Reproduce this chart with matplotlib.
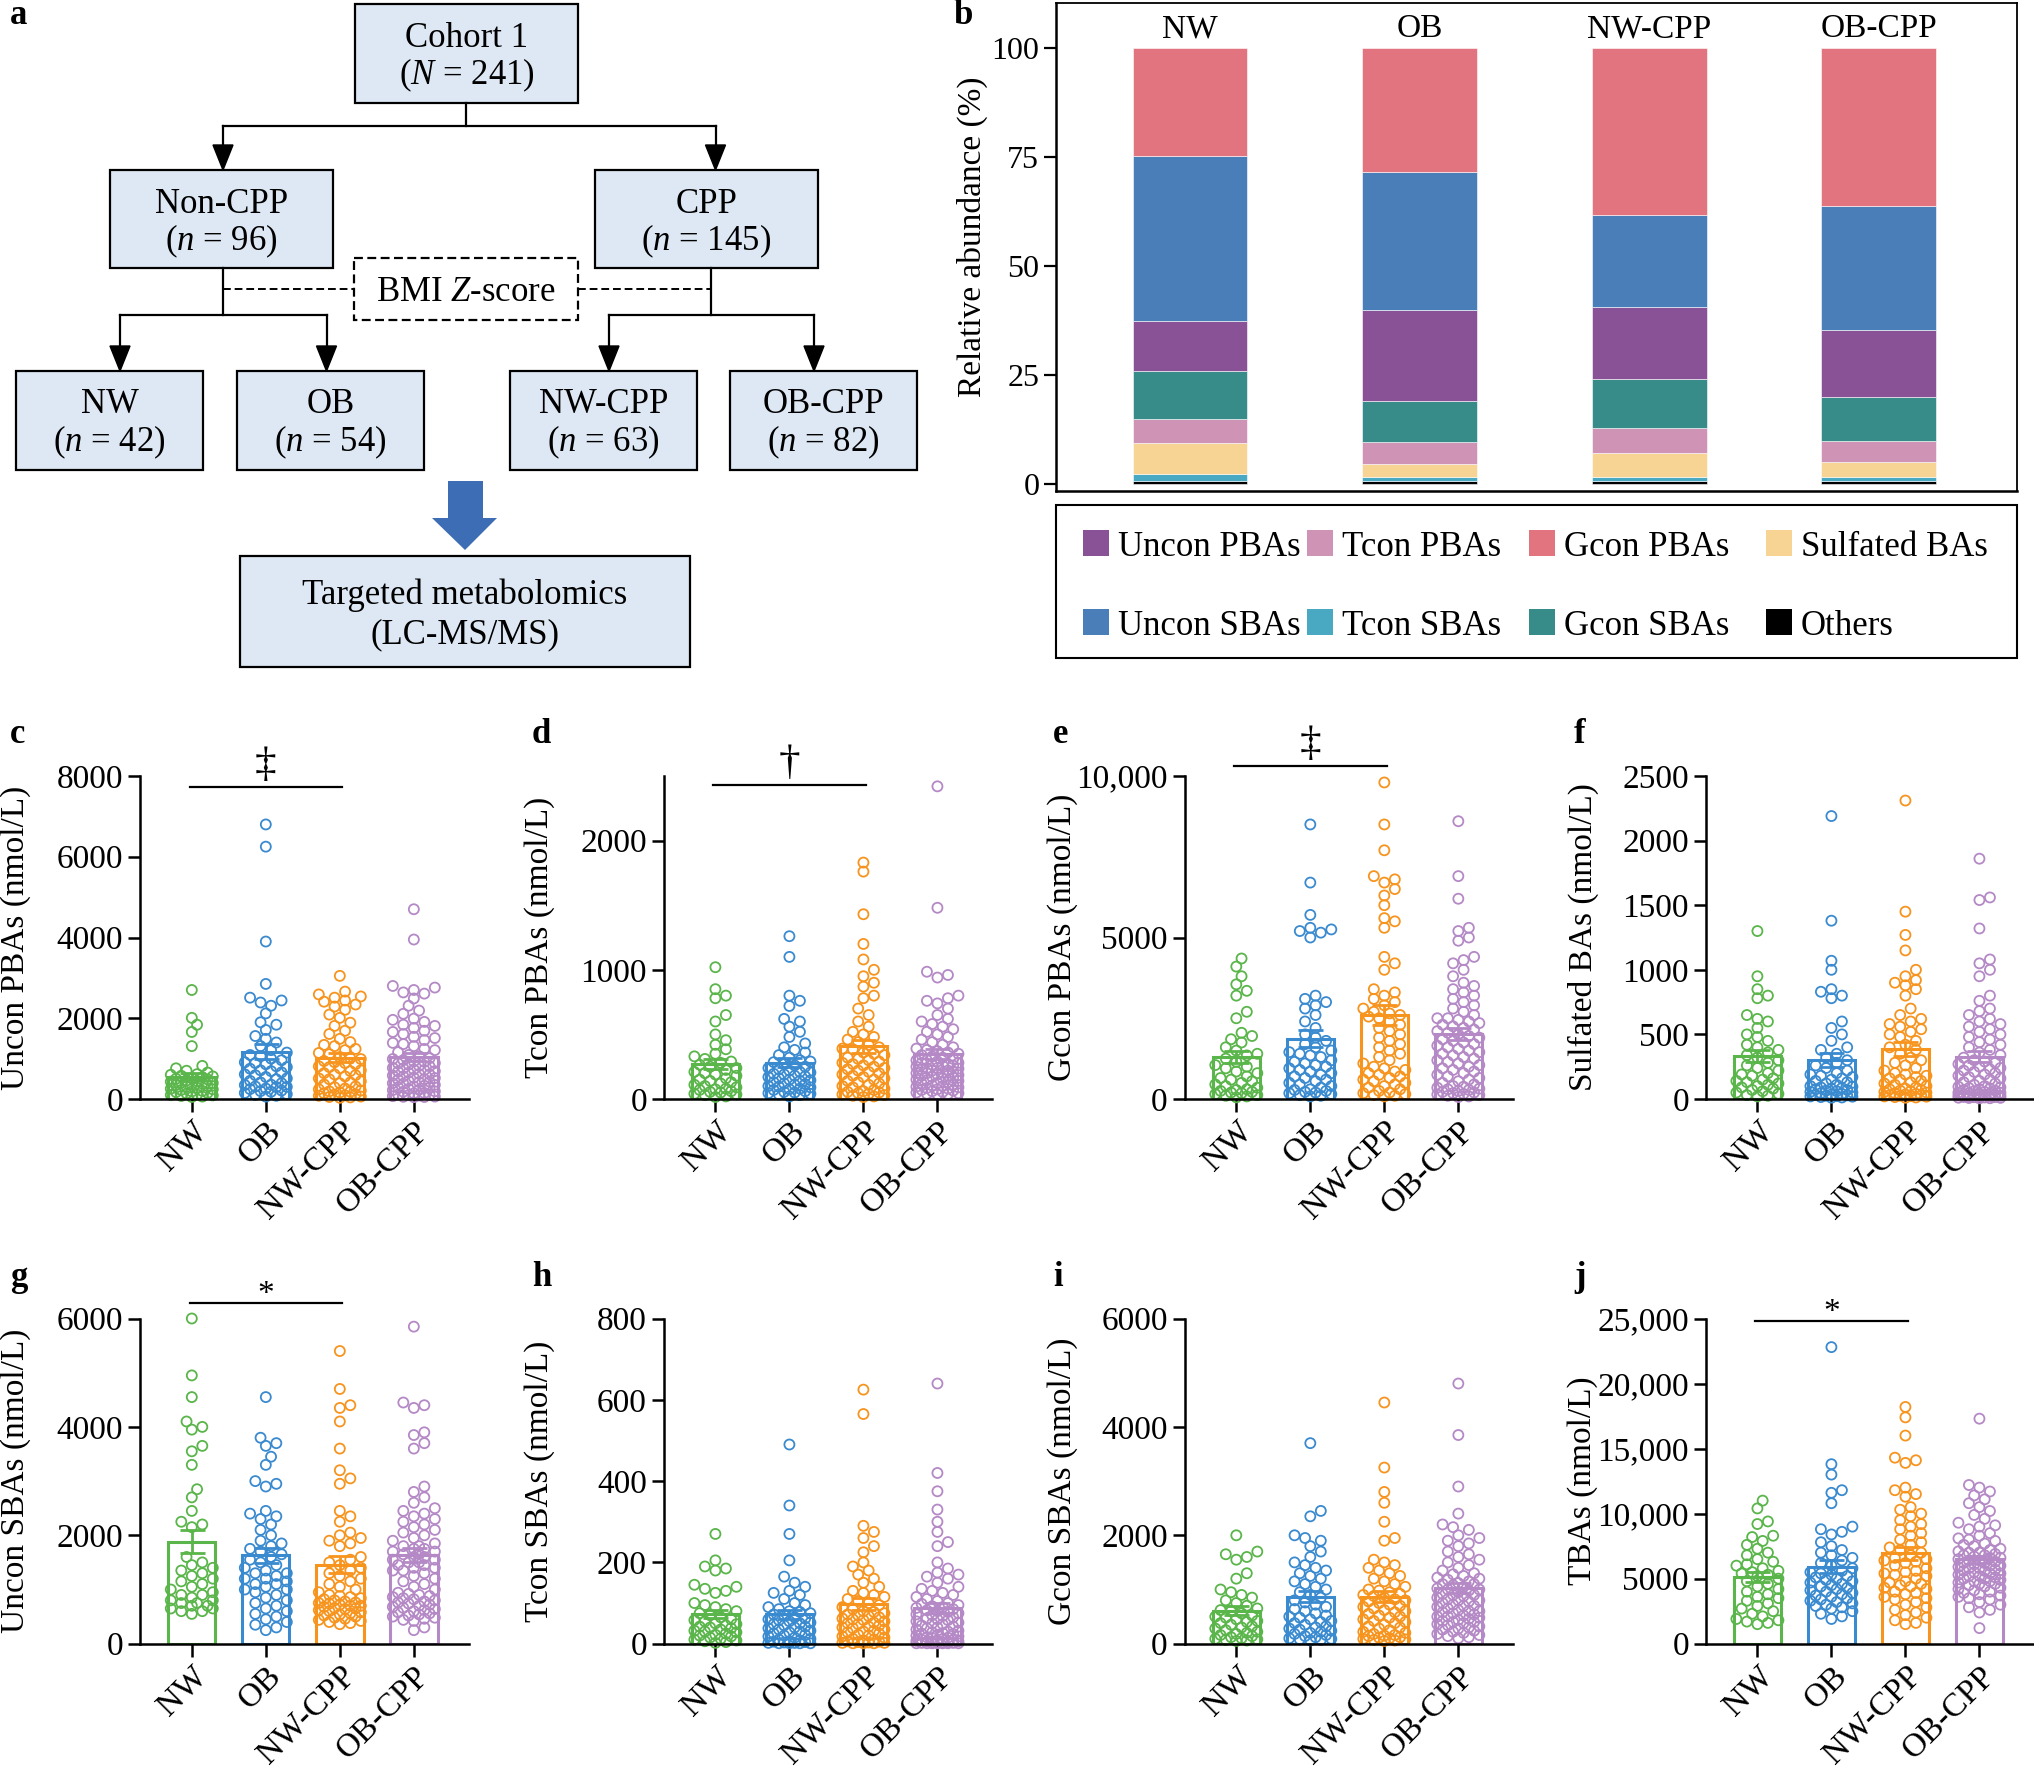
import matplotlib
matplotlib.use("Agg")
import matplotlib.pyplot as plt
import matplotlib.ticker as mticker
from matplotlib.patches import Rectangle, Polygon
import numpy as np

plt.rcParams["font.family"] = ["Liberation Serif", "DejaVu Serif"]
plt.rcParams["mathtext.fontset"] = "custom"
plt.rcParams["mathtext.rm"] = "Liberation Serif"
plt.rcParams["mathtext.it"] = "Liberation Serif:italic"

W, H, DPI = 2034, 1768, 100

groups = ["NW", "OB", "NW-CPP", "OB-CPP"]
group_colors = ["#5ab54a", "#3a8ad0", "#f7941e", "#b489c6"]

# ---- panel b: relative abundance (%), stacked bottom -> top
others = [0.7, 0.7, 0.7, 0.7]
tcon_sba = [1.7, 1.0, 1.0, 0.9]
sulfated = [7.1, 2.9, 5.3, 3.4]
tcon_pba = [5.4, 5.1, 5.9, 4.9]
gcon_sba = [11.0, 9.3, 11.2, 10.1]
uncon_pba = [11.5, 20.9, 16.6, 15.3]
uncon_sba = [37.9, 31.7, 20.9, 28.5]
gcon_pba = [24.7, 28.4, 38.4, 36.2]

# ---- panels c-j: individual concentrations (nmol/L), one list per group
c_nw = [2700, 2010, 1840, 1660, 1310, 820, 760, 700, 655, 615, 600, 575, 560, 540, 515, 500, 485, 455,
        445, 430, 405, 395, 380, 360, 345, 320, 305, 280, 255, 240, 225, 200, 185, 170, 150, 135, 110,
        100, 90, 75, 60, 50]
c_ob = [6800, 6250, 3900, 2850, 2510, 2440, 2390, 2310, 2120, 1900, 1840, 1710, 1560, 1490, 1400, 1310,
        1210, 1150, 1090, 1060, 1000, 960, 910, 890, 860, 810, 790, 750, 710, 690, 660, 610, 590, 545,
        510, 490, 450, 410, 390, 355, 345, 310, 300, 295, 260, 245, 210, 195, 180, 150, 120, 100, 80, 60]
c_nwcpp = [3050, 2660, 2590, 2540, 2510, 2440, 2410, 2340, 2290, 2210, 2090, 2010, 1890, 1810, 1690,
           1610, 1490, 1410, 1340, 1310, 1240, 1210, 1140, 1110, 1040, 1010, 990, 940, 910, 890, 860,
           810, 790, 760, 710, 690, 640, 610, 590, 560, 510, 490, 440, 410, 390, 360, 310, 290, 260,
           240, 210, 190, 180, 160, 140, 120, 110, 90, 80, 60, 50, 40, 30]
c_obcpp = [4700, 3950, 2800, 2760, 2700, 2640, 2610, 2490, 2310, 2190, 2110, 1990, 1960, 1910, 1840,
           1810, 1760, 1690, 1660, 1610, 1540, 1510, 1460, 1390, 1360, 1310, 1240, 1210, 1160, 1090,
           1060, 1010, 990, 960, 930, 920, 890, 880, 850, 820, 810, 770, 760, 730, 720, 690, 680, 650,
           620, 610, 580, 560, 530, 520, 490, 480, 450, 430, 420, 390, 380, 350, 330, 310, 290, 280,
           250, 230, 220, 190, 180, 150, 140, 110, 100, 95, 85, 70, 60, 55, 50, 45]

d_nw = [1020, 850, 800, 780, 650, 600, 500, 455, 420, 385, 350, 330, 310, 290, 280, 265, 250, 240, 225,
        210, 200, 190, 180, 160, 150, 140, 130, 120, 110, 100, 90, 80, 75, 70, 60, 55, 50, 40, 35, 30,
        20, 15]
d_ob = [1260, 1100, 800, 760, 720, 620, 600, 560, 520, 480, 430, 400, 380, 360, 340, 320, 300, 290, 285,
        270, 260, 250, 240, 230, 220, 210, 205, 195, 190, 180, 175, 170, 160, 150, 145, 140, 130, 120,
        115, 110, 100, 95, 90, 80, 75, 70, 60, 55, 50, 45, 40, 35, 30, 20]
d_nwcpp = [1830, 1760, 1430, 1200, 1080, 1000, 950, 900, 870, 800, 780, 700, 650, 600, 560, 520, 500,
           480, 460, 440, 420, 400, 390, 385, 360, 350, 340, 320, 310, 300, 290, 280, 270, 260, 250,
           240, 230, 220, 210, 200, 190, 180, 170, 160, 150, 140, 130, 120, 110, 100, 90, 80, 70, 60,
           55, 50, 45, 40, 35, 30, 25, 20, 15]
d_obcpp = [2420, 1480, 985, 960, 940, 800, 780, 760, 740, 700, 650, 620, 600, 580, 560, 540, 520, 500,
           480, 460, 440, 420, 400, 390, 380, 370, 360, 350, 340, 330, 320, 310, 300, 290, 280, 270,
           265, 260, 250, 240, 235, 230, 220, 210, 205, 200, 190, 185, 180, 170, 165, 160, 150, 145,
           140, 130, 125, 120, 110, 105, 100, 95, 90, 85, 80, 75, 70, 65, 60, 55, 50, 45, 40, 38, 35,
           300, 280, 260, 240, 220, 200, 180]

e_nw = [4350, 4100, 3800, 3550, 3350, 3200, 2700, 2500, 2050, 1950, 1850, 1750, 1600, 1500, 1400, 1350,
        1250, 1150, 1050, 1000, 950, 850, 800, 700, 650, 600, 550, 500, 450, 400, 350, 300, 280, 250,
        220, 200, 180, 150, 120, 100, 80, 50]
e_ob = [8500, 6700, 5700, 5300, 5250, 5200, 5150, 5000, 3200, 3100, 3000, 2900, 2800, 2600, 2400, 2200,
        2000, 1900, 1800, 1700, 1600, 1500, 1450, 1400, 1350, 1300, 1200, 1150, 1100, 1050, 1000, 950,
        900, 850, 800, 750, 700, 650, 600, 550, 500, 450, 400, 350, 300, 280, 250, 220, 200, 180, 150,
        120, 100, 80]
e_nwcpp = [9800, 8500, 7700, 6900, 6800, 6700, 6500, 6300, 6000, 5600, 5500, 5300, 4400, 4200, 4000,
           3400, 3300, 3200, 3100, 3000, 2900, 2800, 2700, 2650, 2600, 2550, 2500, 2400, 2300, 2200,
           2100, 2000, 1900, 1800, 1700, 1600, 1500, 1400, 1300, 1200, 1100, 1000, 950, 900, 850, 800,
           750, 700, 650, 600, 550, 500, 450, 400, 350, 300, 250, 200, 180, 150, 120, 100, 80]
e_obcpp = [8600, 6900, 6200, 5300, 5200, 5000, 4900, 4400, 4300, 4200, 4000, 3800, 3600, 3500, 3400,
           3300, 3200, 3100, 3000, 2900, 2800, 2700, 2600, 2500, 2500, 2450, 2400, 2350, 2300, 2250,
           2200, 2150, 2100, 2050, 2000, 1950, 1900, 1850, 1800, 1750, 1700, 1650, 1600, 1550, 1500,
           1450, 1400, 1350, 1300, 1250, 1200, 1150, 1100, 1050, 1000, 950, 900, 850, 800, 750, 700,
           650, 600, 550, 500, 450, 400, 380, 350, 320, 300, 280, 250, 220, 200, 180, 160, 140, 120,
           100, 80, 60]

f_nw = [1300, 950, 850, 800, 780, 650, 620, 600, 550, 500, 480, 450, 420, 400, 380, 360, 340, 320, 300,
        280, 260, 240, 220, 200, 190, 180, 160, 150, 140, 130, 120, 110, 100, 90, 80, 70, 60, 50, 40,
        30, 25, 20]
f_ob = [2190, 1380, 1070, 1000, 850, 830, 800, 780, 600, 550, 500, 450, 400, 380, 350, 320, 300, 280,
        260, 240, 220, 200, 190, 180, 170, 160, 150, 140, 130, 120, 110, 100, 95, 90, 85, 80, 75, 70,
        65, 60, 55, 50, 45, 40, 35, 30, 28, 25, 22, 20, 18, 15, 12, 10]
f_nwcpp = [2310, 1450, 1270, 1150, 1000, 950, 920, 900, 880, 850, 800, 700, 650, 620, 600, 580, 560,
           540, 520, 500, 480, 450, 420, 400, 380, 350, 320, 300, 280, 260, 240, 220, 200, 190, 180,
           170, 160, 150, 140, 130, 120, 110, 100, 90, 80, 75, 70, 65, 60, 55, 50, 45, 40, 35, 30, 28,
           25, 22, 20, 18, 15, 12, 10]
f_obcpp = [1860, 1560, 1540, 1320, 1080, 1050, 1000, 950, 800, 760, 700, 680, 650, 620, 600, 580, 560,
           540, 520, 500, 480, 460, 440, 420, 400, 380, 360, 340, 320, 300, 290, 280, 270, 260, 250,
           240, 230, 220, 210, 200, 190, 180, 170, 160, 150, 140, 130, 120, 110, 100, 95, 90, 85, 80,
           75, 70, 65, 60, 55, 50, 48, 45, 42, 40, 38, 35, 32, 30, 28, 25, 22, 20, 18, 16, 15, 14, 12,
           10, 9, 8, 6, 5]

g_nw = [6000, 4950, 4550, 4100, 4000, 3950, 3650, 3550, 3300, 2850, 2700, 2450, 2250, 2200, 2150, 1600,
        1500, 1450, 1400, 1350, 1300, 1250, 1200, 1150, 1100, 1050, 1000, 950, 900, 900, 850, 800, 800,
        750, 750, 700, 700, 650, 650, 600, 600, 550]
g_ob = [4550, 3800, 3700, 3650, 3450, 3300, 3000, 2950, 2900, 2450, 2400, 2350, 2300, 2200, 2100, 2000,
        1900, 1850, 1800, 1750, 1700, 1650, 1600, 1550, 1500, 1450, 1400, 1350, 1300, 1250, 1200, 1150,
        1100, 1050, 1000, 950, 900, 850, 800, 750, 700, 650, 600, 550, 500, 450, 400, 350, 300, 250,
        1300, 1200, 1100, 1000]
g_nwcpp = [5400, 4700, 4400, 4350, 4100, 3600, 3200, 3050, 2950, 2450, 2350, 2250, 2050, 2000, 1950,
           1900, 1850, 1800, 750, 700, 650, 1600, 1550, 1500, 1450, 1400, 1350, 1300, 1250, 1200, 1150,
           1100, 1050, 1000, 950, 900, 880, 860, 840, 820, 800, 780, 760, 740, 720, 700, 680, 660, 640,
           620, 600, 580, 560, 540, 520, 500, 480, 460, 440, 420, 400, 380, 360]
g_obcpp = [5850, 4450, 4400, 4350, 3900, 3850, 3700, 3600, 2900, 2800, 2700, 2600, 2500, 2450, 2400,
           2350, 2300, 2250, 2200, 2150, 2100, 2050, 2000, 1950, 1900, 1850, 1800, 1750, 1700, 1650,
           1600, 1550, 1500, 1450, 1400, 1350, 1300, 1250, 1200, 1150, 1100, 1050, 1000, 1800, 1750,
           1700, 1650, 1600, 1550, 1500, 1450, 1400, 1350, 300, 250, 940, 920, 900, 880, 860, 840, 820,
           800, 780, 760, 740, 720, 700, 680, 660, 640, 620, 600, 580, 560, 540, 520, 500, 480, 460,
           440, 420]

h_nw = [270, 205, 190, 185, 180, 145, 140, 135, 130, 125, 100, 95, 90, 85, 80, 75, 70, 65, 60, 58, 55,
        50, 48, 45, 42, 40, 38, 35, 32, 30, 28, 25, 22, 20, 18, 15, 12, 10, 8, 6, 4, 2]
h_ob = [490, 340, 270, 205, 165, 150, 140, 130, 125, 120, 110, 100, 95, 90, 85, 80, 78, 75, 72, 70, 65,
        62, 60, 58, 55, 52, 50, 48, 45, 42, 40, 38, 35, 32, 30, 28, 25, 22, 20, 18, 15, 12, 10, 8, 6, 5,
        4, 3, 2, 2, 1, 1, 1, 1]
h_nwcpp = [625, 565, 290, 275, 260, 240, 225, 200, 190, 180, 170, 160, 150, 140, 130, 125, 120, 115,
           110, 105, 100, 95, 90, 85, 80, 78, 75, 72, 70, 68, 65, 62, 60, 58, 55, 52, 50, 48, 45, 42, 40,
           38, 35, 32, 30, 28, 25, 22, 20, 18, 15, 12, 10, 8, 6, 5, 4, 3, 2, 2, 1, 1, 1]
h_obcpp = [640, 420, 375, 330, 300, 275, 250, 240, 200, 185, 175, 170, 165, 160, 150, 140, 135, 130, 125,
           120, 115, 110, 105, 100, 98, 95, 92, 90, 88, 85, 82, 80, 78, 75, 72, 70, 68, 65, 62, 60, 58,
           55, 52, 50, 48, 45, 42, 40, 38, 35, 32, 30, 28, 26, 25, 24, 22, 20, 18, 16, 15, 14, 12, 10, 9,
           8, 7, 6, 5, 4, 3, 3, 2, 2, 2, 1, 1, 1, 1, 1, 1, 1]

i_nw = [2000, 1700, 1650, 1600, 1550, 1300, 1200, 1000, 950, 900, 850, 800, 750, 700, 650, 620, 600,
        560, 520, 500, 480, 450, 420, 400, 380, 350, 320, 300, 280, 250, 220, 200, 180, 160, 140, 120,
        100, 90, 80, 70, 60, 50]
i_ob = [3700, 2450, 2350, 2000, 1950, 1900, 1800, 1700, 1600, 1500, 1450, 1400, 1350, 1300, 1250, 1200,
        1150, 1100, 1050, 1000, 950, 900, 850, 800, 760, 720, 680, 640, 600, 560, 520, 500, 480, 450,
        420, 400, 380, 350, 320, 300, 280, 260, 240, 220, 200, 180, 160, 140, 120, 100, 90, 80, 70, 60]
i_nwcpp = [4450, 3250, 2800, 2600, 2250, 1950, 1900, 1550, 1500, 1450, 1400, 1350, 1300, 1250, 1200,
           1150, 1100, 1050, 1000, 980, 950, 920, 900, 880, 850, 820, 800, 780, 750, 720, 700, 680, 650,
           620, 600, 580, 550, 520, 500, 480, 450, 420, 400, 380, 350, 320, 300, 280, 250, 220, 200,
           180, 160, 150, 140, 120, 110, 100, 90, 80, 70, 60, 50]
i_obcpp = [4800, 3850, 2900, 2400, 2200, 2150, 2100, 2000, 1950, 1900, 1850, 1800, 1700, 1650, 1600,
           1550, 1500, 1450, 1400, 1350, 1300, 1280, 1250, 1220, 1200, 1180, 1150, 1120, 1100, 1080,
           1050, 1020, 1000, 980, 950, 920, 900, 880, 850, 820, 800, 780, 750, 720, 700, 680, 650, 620,
           600, 580, 560, 540, 520, 500, 480, 460, 440, 420, 400, 380, 360, 340, 320, 300, 280, 260,
           240, 220, 200, 180, 160, 140, 120, 100, 1100, 1000, 900, 800, 700, 600, 500, 400]

j_nw = [11000, 10400, 9400, 9200, 8300, 8200, 7900, 7600, 7300, 7000, 6800, 6500, 6300, 6100, 6000,
        5800, 5600, 5500, 5400, 5300, 5200, 5000, 4800, 4600, 4400, 4200, 4000, 3800, 3600, 3500, 3300,
        3100, 2900, 2700, 2500, 2300, 2100, 1900, 1800, 1700, 1600, 1500]
j_ob = [22800, 13800, 13000, 11800, 11600, 10800, 9000, 8800, 8600, 8400, 7800, 7500, 7200, 7000, 6800,
        6600, 6400, 6200, 6000, 5800, 5600, 5500, 5400, 5300, 5200, 5100, 5000, 4900, 4800, 4700, 4600,
        4500, 4400, 4300, 4200, 4100, 4000, 3900, 3800, 3700, 3600, 3500, 3400, 3300, 3200, 3100, 3000,
        2900, 2800, 2700, 2500, 2300, 2100, 1900]
j_nwcpp = [18200, 17400, 16000, 14300, 14100, 13900, 12000, 11800, 11500, 11300, 10500, 10300, 10000,
           9800, 9500, 9200, 9000, 8800, 8500, 8300, 8000, 7800, 7600, 7400, 7200, 7000, 6800, 6600,
           6400, 6200, 6000, 5800, 5600, 5400, 5200, 5000, 4800, 4600, 4400, 4200, 4000, 3800, 3600,
           3400, 3200, 3000, 2800, 2600, 2400, 2200, 2000, 1800, 1600, 1500, 5500, 6500, 4700, 4500,
           3500, 6300, 5300, 4300, 3900]
j_obcpp = [17300, 12200, 12000, 11700, 11400, 11100, 10800, 10500, 10200, 9900, 9600, 9300, 9100, 8800,
           8500, 8300, 8100, 7900, 7700, 7500, 7300, 7100, 7000, 6900, 6800, 6700, 6600, 6500, 6400,
           6300, 6200, 6100, 6000, 5900, 5800, 5700, 5600, 5500, 5400, 5300, 5200, 5100, 5000, 4900,
           4800, 4700, 4600, 4500, 4400, 4300, 4200, 4100, 4000, 3900, 3800, 3700, 3600, 3500, 3400,
           3200, 3000, 2800, 2600, 2400, 1200, 6000, 6200, 5800, 5600, 6400, 7000, 7200, 5400, 5200,
           4800, 6600, 6800, 5000, 4600, 7600, 8000, 9000]


def px_rect(x0, y0, x1, y1):
    """pixel box (top-left origin) -> figure fraction rect"""
    return [x0 / W, 1 - y1 / H, (x1 - x0) / W, (y1 - y0) / H]


def swarm(vals, ytop, h_px, d=10.5, max_off=24.0, min_gap=0.8):
    """horizontal offsets (px) so overlapping dots spread out, densest first at centre"""
    y = np.asarray(vals, float) / ytop * h_px
    cands = [0.0]
    k = 1
    while k * d * 0.5 <= max_off:
        cands += [k * d * 0.5, -k * d * 0.5]
        k += 1
    px, py = [], []
    off = np.zeros(len(y))
    for i in np.argsort(y):
        best, best_gap = 0.0, -1.0
        for c in cands:
            gap = np.inf if not px else np.hypot(np.array(px) - c, np.array(py) - y[i]).min()
            if gap >= min_gap * d:
                best = c
                break
            if gap > best_gap:
                best_gap, best = gap, c
        off[i] = best
        px.append(best)
        py.append(y[i])
    return off


fig = plt.figure(figsize=(W / DPI, H / DPI), dpi=DPI)

# canvas in pixel coordinates for the flow chart, legend box and panel letters
cv = fig.add_axes([0, 0, 1, 1])
cv.set_xlim(0, W)
cv.set_ylim(H, 0)
cv.axis("off")

BOX_FILL = "#dde8f4"
FS = 25


def box(x0, y0, x1, y1, lines, dashed=False, fill=BOX_FILL):
    cv.add_patch(Rectangle((x0, y0), x1 - x0, y1 - y0, facecolor=fill, edgecolor="black",
                           lw=1.6, ls=(0, (4, 2)) if dashed else "-"))
    for txt, yb in lines:
        cv.text((x0 + x1) / 2, yb, txt, ha="center", va="baseline", fontsize=FS)


def arrow_down(x, y0, y1):
    cv.plot([x, x], [y0, y1 - 22], color="black", lw=1.6)
    cv.add_patch(Polygon([[x - 10, y1 - 25], [x + 10, y1 - 25], [x, y1]], closed=True,
                         facecolor="black", edgecolor="black"))


# ---- panel a: flow chart
box(355, 4, 578, 103, [("Cohort 1", 47), ("($\\mathit{N}$ = 241)", 84)])
cv.plot([466, 466], [103, 125.5], color="black", lw=1.6)
cv.plot([223, 715.5], [125.5, 125.5], color="black", lw=1.6)
arrow_down(223, 125.5, 170)
arrow_down(715.5, 125.5, 170)
box(110, 170, 333, 268, [("Non-CPP", 213), ("($\\mathit{n}$ = 96)", 250)])
box(595, 170, 818, 268, [("CPP", 213), ("($\\mathit{n}$ = 145)", 250)])
cv.plot([223, 223], [268, 315], color="black", lw=1.6)
cv.plot([120, 326.5], [315, 315], color="black", lw=1.6)
cv.plot([711, 711], [268, 315], color="black", lw=1.6)
cv.plot([609, 814], [315, 315], color="black", lw=1.6)
cv.plot([223, 354], [288.6, 288.6], color="black", lw=1.4, ls=(0, (4, 2)))
cv.plot([578, 711], [288.6, 288.6], color="black", lw=1.4, ls=(0, (4, 2)))
box(354, 258, 578, 320, [("BMI $\\mathit{Z}$-score", 301)], dashed=True, fill="white")
for xa in (120, 326.5, 609, 814):
    arrow_down(xa, 315, 371)
for (x0, x1), name, n in zip([(16, 203), (237, 424), (510, 697), (730, 917)], groups,
                             [42, 54, 63, 82]):
    box(x0, 371, x1, 470, [(name, 413), (f"($\\mathit{{n}}$ = {n})", 451)])
cv.add_patch(Polygon([[448, 481], [483, 481], [483, 518], [497, 518], [465, 550], [432, 518],
                      [448, 518]], closed=True, facecolor="#3d6db4", edgecolor="none"))
box(240, 556, 690, 667, [("Targeted metabolomics", 604), ("(LC-MS/MS)", 643)])

# ---- panel b: stacked composition
stack = [
    ("Others", others, "#000000"),
    ("Tcon SBAs", tcon_sba, "#4aa9c2"),
    ("Sulfated BAs", sulfated, "#f7d394"),
    ("Tcon PBAs", tcon_pba, "#cf93b5"),
    ("Gcon SBAs", gcon_sba, "#378c89"),
    ("Uncon PBAs", uncon_pba, "#8a5296"),
    ("Uncon SBAs", uncon_sba, "#4a7eb8"),
    ("Gcon PBAs", gcon_pba, "#e27480"),
]
axb = fig.add_axes(px_rect(1056, 3, 2017, 491))
xb = np.arange(len(groups))
bottom = np.zeros(len(groups))
for name, vals, col in stack:
    axb.bar(xb, vals, 0.5, bottom=bottom, color=col, edgecolor="white", linewidth=0.4)
    bottom += np.asarray(vals)
for i, g in enumerate(groups):
    axb.text(i, 102.5, g, ha="center", va="baseline", fontsize=24)
axb.set_xlim(-0.584, 3.602)
axb.set_ylim(-1.6, 110.3)
axb.set_yticks([0, 25, 50, 75, 100])
axb.set_xticks([])
axb.tick_params(axis="y", direction="out", length=9, width=1.6, labelsize=23, pad=3)
for side, sp in axb.spines.items():
    sp.set_linewidth(1.8 if side in ("left", "bottom") else 1.3)
fig.text(972 / W, 1 - 237 / H, "Relative abundance (%)", rotation=90, ha="center", va="center",
         fontsize=24)

# legend box for b
cv.add_patch(Rectangle((1056, 505), 961, 153, facecolor="none", edgecolor="black", lw=1.5))
legend_rows = [["Uncon PBAs", "Tcon PBAs", "Gcon PBAs", "Sulfated BAs"],
               ["Uncon SBAs", "Tcon SBAs", "Gcon SBAs", "Others"]]
leg_color = {name: col for name, _, col in stack}
for row, yb in zip(legend_rows, [556, 635]):
    for name, xm in zip(row, [1083, 1307, 1529, 1766]):
        cv.add_patch(Rectangle((xm, yb - 26), 26, 26, facecolor=leg_color[name], edgecolor="none"))
        cv.text(xm + 35, yb, name, ha="left", va="baseline", fontsize=25)

# ---- panels c-j: scatter + mean bar + SEM
panels = [
    ("c", [c_nw, c_ob, c_nwcpp, c_obcpp], "Uncon PBAs (nmol/L)", 8000, [0, 2000, 4000, 6000, 8000],
     ("\u2021", 7720)),
    ("d", [d_nw, d_ob, d_nwcpp, d_obcpp], "Tcon PBAs (nmol/L)", 2500, [0, 1000, 2000],
     ("\u2020", 2430)),
    ("e", [e_nw, e_ob, e_nwcpp, e_obcpp], "Gcon PBAs (nmol/L)", 10000, [0, 5000, 10000],
     ("\u2021", 10320)),
    ("f", [f_nw, f_ob, f_nwcpp, f_obcpp], "Sulfated BAs (nmol/L)", 2500,
     [0, 500, 1000, 1500, 2000, 2500], None),
    ("g", [g_nw, g_ob, g_nwcpp, g_obcpp], "Uncon SBAs (nmol/L)", 6000, [0, 2000, 4000, 6000],
     ("*", 6295)),
    ("h", [h_nw, h_ob, h_nwcpp, h_obcpp], "Tcon SBAs (nmol/L)", 800, [0, 200, 400, 600, 800], None),
    ("i", [i_nw, i_ob, i_nwcpp, i_obcpp], "Gcon SBAs (nmol/L)", 6000, [0, 2000, 4000, 6000], None),
    ("j", [j_nw, j_ob, j_nwcpp, j_obcpp], "TBAs (nmol/L)", 25000,
     [0, 5000, 10000, 15000, 20000, 25000], ("*", 24843)),
]
col_left = [140, 663.6, 1184.5, 1705.6]
label_x = [15.5, 540, 1063, 1583]
letter_x = [10, 532, 1053, 1574]
rows = [(776, 1099, 743), (1318.5, 1643.7, 1286)]
AX_W = 328.6
CAT_PX = 74.0


def fmt_tick(v, _pos):
    return f"{int(v):,}" if v >= 10000 else f"{int(v)}"


for k, (letter, data, ylabel, ytop, yticks, sig) in enumerate(panels):
    r, c = divmod(k, 4)
    top, bot, letter_y = rows[r]
    ax = fig.add_axes(px_rect(col_left[c], top, col_left[c] + AX_W, bot))
    h_px = bot - top
    for i, (vals, col) in enumerate(zip(data, group_colors)):
        arr = np.asarray(vals, float)
        mean = arr.mean()
        sem = arr.std(ddof=1) / np.sqrt(len(arr))
        ax.bar(i, mean, 0.64, facecolor="none", edgecolor=col, linewidth=2.2, zorder=2)
        xs = i + swarm(arr, ytop, h_px) / CAT_PX
        ax.scatter(xs, arr, s=52, facecolors="none", edgecolors=col, linewidths=1.3, zorder=3,
                   clip_on=False)
        ax.errorbar(i, mean, yerr=sem, fmt="none", ecolor=col, elinewidth=2.0, capsize=9,
                    capthick=2.0, zorder=4)
    ax.set_xlim(-0.70, 3.74)
    ax.set_ylim(0, ytop)
    ax.set_yticks(yticks)
    ax.yaxis.set_major_formatter(mticker.FuncFormatter(fmt_tick))
    ax.set_xticks(range(len(groups)))
    ax.set_xticklabels(groups, rotation=45, ha="right", rotation_mode="anchor")
    ax.tick_params(axis="both", direction="out", length=9, width=1.8, labelsize=24, pad=3)
    ax.tick_params(axis="x", pad=3)
    for side in ("top", "right"):
        ax.spines[side].set_visible(False)
    for side in ("left", "bottom"):
        ax.spines[side].set_linewidth(1.8)
        ax.spines[side].set_zorder(5)
    ax.patch.set_alpha(0)
    if sig is not None:
        sym, yline = sig
        ax.plot([-0.03, 2.03], [yline, yline], color="black", lw=1.6, clip_on=False)
        if sym == "*":
            ax.annotate(sym, (1.0, yline), xytext=(0, 0), textcoords="offset points",
                        ha="center", va="baseline", fontsize=24, annotation_clip=False)
        else:
            ax.annotate(sym, (1.0, yline), xytext=(0, 8), textcoords="offset points",
                        ha="center", va="baseline", fontsize=31, annotation_clip=False)
    fig.text(label_x[c] / W, 1 - (top + bot) / 2 / H, ylabel, rotation=90, ha="center",
             va="center", fontsize=24)
    fig.text(letter_x[c] / W, 1 - letter_y / H, letter, ha="left", va="baseline", fontsize=25,
             fontweight="bold")

fig.text(10 / W, 1 - 24 / H, "a", ha="left", va="baseline", fontsize=25, fontweight="bold")
fig.text(953 / W, 1 - 24 / H, "b", ha="left", va="baseline", fontsize=25, fontweight="bold")

fig.savefig("out.png", dpi=DPI)
